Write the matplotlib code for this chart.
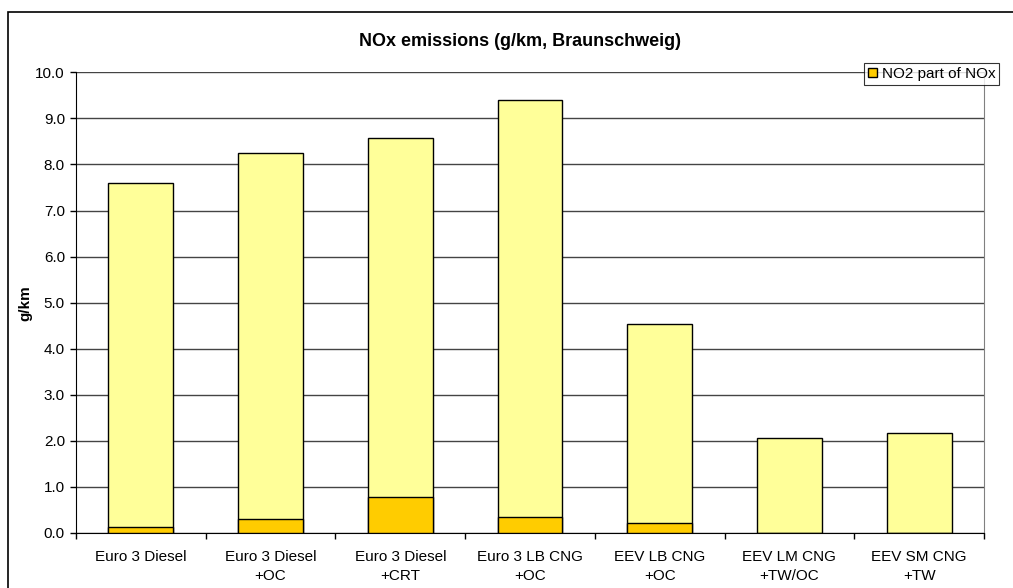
import matplotlib
matplotlib.use("Agg")
import matplotlib.pyplot as plt
from matplotlib.patches import Rectangle, Patch

plt.rcParams['font.family'] = ['Liberation Sans', 'DejaVu Sans']

categories = ["Euro 3 Diesel", "Euro 3 Diesel\n+OC", "Euro 3 Diesel\n+CRT", "Euro 3 LB CNG\n+OC",
              "EEV LB CNG\n+OC", "EEV LM CNG\n+TW/OC", "EEV SM CNG\n+TW"]
nox_total = [7.60, 8.24, 8.57, 9.39, 4.54, 2.07, 2.17]
no2_part = [0.14, 0.30, 0.78, 0.34, 0.22, 0.0, 0.0]
yticks = [0.0, 1.0, 2.0, 3.0, 4.0, 5.0, 6.0, 7.0, 8.0, 9.0, 10.0]

W, H = 1013, 588
fig = plt.figure(figsize=(W / 100, H / 100), dpi=100)
ax = fig.add_axes([76 / W, 1 - 533 / H, (984 - 76) / W, (533 - 72.3) / H])

# outer frame
fig.patches.append(Rectangle((8 / W, -0.05), 1.2, 1 - 12 / H + 0.05, transform=fig.transFigure,
                             fill=False, edgecolor='black', linewidth=1.2))

x = list(range(len(categories)))
ax.bar(x, nox_total, width=0.5, color='#FFFF99', edgecolor='black', linewidth=1, zorder=3)
ax.bar(x, no2_part, width=0.5, color='#FFCC00', edgecolor='black', linewidth=1, zorder=4,
       label='NO2 part of NOx')

ax.set_xlim(-0.5, len(categories) - 0.5)
ax.set_ylim(0, 10)
ax.set_yticks(yticks)
ax.set_yticklabels([f"{v:.1f}" for v in yticks], fontsize=11)
ax.yaxis.grid(True, color='#444444', linewidth=1, zorder=0)
ax.set_axisbelow(True)

ax.set_xticks([i + 0.5 for i in range(-1, len(categories))], minor=False)
ax.set_xticklabels([])
ax.set_xticks(x, minor=True)
ax.set_xticklabels(categories, minor=True, fontsize=11, linespacing=1.5)
ax.tick_params(axis='x', which='major', direction='out', length=4, width=1)
ax.tick_params(axis='x', which='minor', length=0, pad=12)
ax.tick_params(axis='y', direction='out', length=4, width=1, pad=4)

ax.spines['top'].set_visible(False)
ax.spines['right'].set_color('#808080')
ax.spines['left'].set_color('black')
ax.spines['bottom'].set_color('black')

ax.set_ylabel('g/km', fontsize=11, fontweight='bold')
ax.yaxis.set_label_coords((32 - 76) / 908, 0.5)
fig.text(520 / W, 1 - 41 / H, 'NOx emissions (g/km, Braunschweig)', ha='center', va='center',
         fontsize=13, fontweight='bold')

leg = ax.legend(handles=[Patch(facecolor='#FFCC00', edgecolor='black', label='NO2 part of NOx')],
                loc='upper right', bbox_to_anchor=(999 / W, 1 - 63 / H), bbox_transform=fig.transFigure,
                fontsize=11, frameon=True, fancybox=False, borderpad=0.25, handlelength=0.6,
                handleheight=0.6, handletextpad=0.3, borderaxespad=0)
leg.get_frame().set_edgecolor('black')
leg.get_frame().set_linewidth(0.8)

fig.savefig('out.png', dpi=100)
